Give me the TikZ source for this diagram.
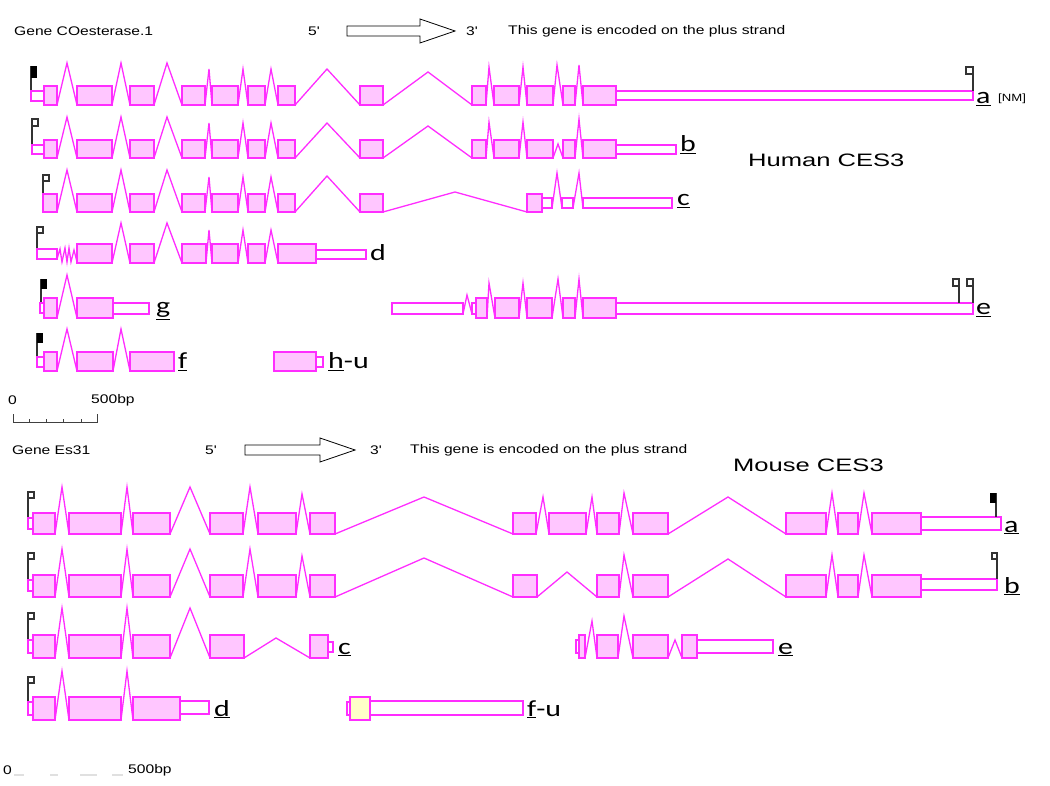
\documentclass[tikz,border=0pt]{standalone}
\usepackage{fontspec}
\setmainfont{Liberation Sans}
\newfontfamily\hdrfont[FakeStretch=1.25]{Liberation Sans}
\newfontfamily\cesfont[FakeStretch=1.42]{Liberation Sans}
\newfontfamily\lblfont[FakeStretch=1.3]{Carlito}
\definecolor{genepink}{RGB}{255,45,255}
\definecolor{exonpink}{RGB}{255,198,255}
\definecolor{utryellow}{RGB}{255,255,200}
\begin{document}
\begin{tikzpicture}[x=1pt, y=-1pt,
	exon/.style={draw=genepink, fill=exonpink, line width=1.5pt},
	utr/.style={draw=genepink, fill=white, line width=1.5pt},
	intron/.style={genepink, line width=1.3pt},
	tss/.style={black!80, line width=1.1pt},
	lbl/.style={anchor=base west, inner sep=0pt, font=\lblfont\fontsize{23}{23}\selectfont},
	hdr/.style={anchor=west, inner sep=0pt, font=\hdrfont\fontsize{12.5}{12.5}\selectfont},
	ceslabel/.style={anchor=west, inner sep=0pt, font=\cesfont\fontsize{18}{18}\selectfont}]
	\useasboundingbox (0,0) rectangle (1050,786);
	\node [hdr] (hgene) at (14,31) {Gene COesterase.1};
	\node [hdr] (hfive) at (308,31) {5'};
	\draw [thick] (347,26) -- (420,26) -- (420,19) -- (455,31) -- (420,43) -- (420,36) -- (347,36) -- cycle;
	\node [hdr] (hthree) at (466,31) {3'};
	\node [hdr] (hstrand) at (508,31) {This gene is encoded on the plus strand};
	\node [ceslabel] (hces) at (748,160) {Human CES3};

	\foreach \a/\p/\h/\b in {57/67/63/77, 112/121/63/130, 154/167/63/182, 205/209/69/212, 238/243/69/248, 265/271/69/278, 295/327/69/360, 383/428/72/472, 486/489/67/494, 519/523/67/527, 553/557/65/563, 575/579/65/583}
		\draw [intron] (\a,105) -- (\p,\h) -- (\b,105);
	\draw [tss] (31,66) -- (31,91);
	\fill [black] (31,66) rectangle (37,78);
	\draw [utr] (31,91) rectangle (44,101);
	\draw [utr] (616,91) rectangle (973,100);
	\foreach \a/\b in {44/57, 77/112, 130/154, 182/205, 212/238, 248/265, 278/295, 360/383, 472/486, 494/519, 527/553, 563/575, 583/616}
		\draw [exon] (\a,86) rectangle (\b,105);
	\draw [tss] (973,67) -- (973,91);
	\draw [tss] (966,67) rectangle (973,74);
	\node [lbl] (ha) at (976,104) {\underline{a}};
	\node [anchor=base west, inner sep=0pt, font=\hdrfont\fontsize{10.5}{10.5}\selectfont] (hnm) at (998,102) {[NM]};

	\foreach \a/\p/\h/\b in {57/67/117/77, 112/121/117/130, 154/167/117/182, 205/209/123/212, 238/243/123/248, 265/271/123/278, 295/327/123/360, 383/428/126/472, 486/489/122/494, 519/523/122/527, 553/558/144/563, 575/579/119/583}
		\draw [intron] (\a,158) -- (\p,\h) -- (\b,158);
	\draw [tss] (32,119) -- (32,145);
	\draw [tss] (32,119) rectangle (38,126);
	\draw [utr] (32,145) rectangle (44,154);
	\draw [utr] (616,145) rectangle (676,154);
	\foreach \a/\b in {44/57, 77/112, 130/154, 182/205, 212/238, 248/265, 278/295, 360/383, 472/486, 494/519, 527/553, 563/575, 583/616}
		\draw [exon] (\a,140) rectangle (\b,158);
	\node [lbl] (hb) at (680,152) {\underline{b}};

	\foreach \a/\p/\h/\b in {57/67/170/77, 112/121/170/130, 154/167/170/182, 205/209/177/212, 238/243/177/248, 265/271/177/278, 295/327/176/360, 383/455/192/527}
		\draw [intron] (\a,212) -- (\p,\h) -- (\b,212);
	\foreach \a/\p/\b in {552/557/562, 573/579/583}
		\draw [intron] (\a,208) -- (\p,173) -- (\b,208);
	\draw [tss] (43,175) -- (43,194);
	\draw [tss] (43,175) rectangle (49,181);
	\foreach \a/\b in {542/552, 562/573, 583/672}
		\draw [utr] (\a,198) rectangle (\b,208);
	\foreach \a/\b in {43/57, 77/112, 130/154, 182/205, 212/238, 248/265, 278/295, 360/383, 527/542}
		\draw [exon] (\a,194) rectangle (\b,212);
	\node [lbl] (hc) at (677,206) {\underline{c}};

	\draw [intron] (57,259) -- (60,249) -- (62,262) -- (65,248) -- (67,262) -- (69,248) -- (71,262) -- (74,250) -- (77,262);
	\foreach \a/\p/\h/\b in {112/121/223/130, 154/167/223/182, 206/209/230/212, 238/243/230/248, 265/271/230/278}
		\draw [intron] (\a,263) -- (\p,\h) -- (\b,263);
	\draw [tss] (37,227) -- (37,249);
	\draw [tss] (37,227) rectangle (43,233);
	\draw [utr] (37,249) rectangle (57,259);
	\draw [utr] (316,250) rectangle (366,259);
	\foreach \a/\b in {77/112, 130/154, 182/206, 212/238, 248/265, 278/316}
		\draw [exon] (\a,244) rectangle (\b,263);
	\node [lbl] (hd) at (370,261) {d};

	\draw [intron] (57,318) -- (67,275) -- (77,318);
	\draw [tss] (41,279) -- (41,303);
	\fill [black] (41,279) rectangle (47,289);
	\draw [utr] (40,303) rectangle (44,313);
	\draw [utr] (113,303) rectangle (149,314);
	\foreach \a/\b in {44/57, 77/113}
		\draw [exon] (\a,298) rectangle (\b,318);
	\node [lbl] (hg) at (156,314) {\underline{g}};

	\draw [intron] (463,314) -- (467,295) -- (472,314);
	\foreach \a/\p/\h/\b in {487/489/283/495, 519/523/283/527, 552/558/279/563, 575/579/279/583}
		\draw [intron] (\a,318) -- (\p,\h) -- (\b,318);
	\foreach \a/\b in {392/463, 472/476, 616/973}
		\draw [utr] (\a,303) rectangle (\b,314);
	\foreach \a/\b in {476/487, 495/519, 527/552, 563/575, 583/616}
		\draw [exon] (\a,298) rectangle (\b,318);
	\foreach \x in {959,973} {
		\draw [tss] (\x,279) -- (\x,303);
		\draw [tss] (\x-6,279) rectangle (\x,286);
	}
	\node [lbl] (he) at (976,315) {\underline{e}};

	\draw [intron] (57,371) -- (67,329) -- (77,371);
	\draw [intron] (113,371) -- (121,329) -- (130,371);
	\draw [tss] (37,333) -- (37,357);
	\fill [black] (37,333) rectangle (43,343);
	\draw [utr] (37,357) rectangle (44,367);
	\draw [utr] (316,357) rectangle (323,367);
	\foreach \a/\b in {44/57, 77/113, 130/174, 274/316}
		\draw [exon] (\a,352) rectangle (\b,371);
	\node [lbl] (hf) at (178,369) {\underline{f}};
	\node [lbl] (hh) at (328,369) {\underline{h}-u};

	\node [hdr] (hzero) at (8,400) {0};
	\node [hdr] (hbp) at (91,400) {500bp};
	\draw [black!75] (13,414) -- (13,422) -- (97,422) -- (97,414);
	\foreach \x in {29,46,63,81}
		\draw [black!75] (\x,422) -- (\x,419);

	\node [hdr] (mgene) at (12,450) {Gene Es31};
	\node [hdr] (mfive) at (205,450) {5'};
	\draw [thick] (245,445) -- (320,445) -- (320,438) -- (355,450) -- (320,462) -- (320,455) -- (245,455) -- cycle;
	\node [hdr] (mthree) at (370,450) {3'};
	\node [hdr] (mstrand) at (410,450) {This gene is encoded on the plus strand};
	\node [ceslabel] (mces) at (733,465) {Mouse CES3};

	\foreach \a/\p/\h/\b in {55/62/487/69, 121/127/487/133, 170/190/487/210, 243/250/487/258, 296/302/494/310, 335/424/497/513, 536/543/497/549, 586/592/497/597, 619/624/493/633, 668/728/497/786, 826/832/493/838, 858/864/493/872}
		\draw [intron] (\a,534) -- (\p,\h) -- (\b,534);
	\draw [tss] (28,492) -- (28,518);
	\draw [tss] (28,492) rectangle (34,498);
	\draw [utr] (28,518) rectangle (33,529);
	\draw [utr] (921,517) rectangle (1001,530);
	\foreach \a/\b in {33/55, 69/121, 133/170, 210/243, 258/296, 310/335, 513/536, 549/586, 597/619, 633/668, 786/826, 838/858, 872/921}
		\draw [exon] (\a,513) rectangle (\b,534);
	\draw [tss] (996,493) -- (996,517);
	\fill [black] (990,493) rectangle (996,503);
	\node [lbl] (ma) at (1004,532) {\underline{a}};

	\foreach \a/\p/\h/\b in {55/62/549/69, 121/127/549/133, 170/190/549/210, 243/250/549/258, 296/302/556/310, 335/424/558/513, 537/567/572/597, 619/624/555/633, 668/728/559/786, 826/832/555/838, 858/864/555/872}
		\draw [intron] (\a,597) -- (\p,\h) -- (\b,597);
	\draw [tss] (28,553) -- (28,580);
	\draw [tss] (28,553) rectangle (34,559);
	\draw [utr] (28,580) rectangle (33,591);
	\draw [utr] (921,579) rectangle (997,590);
	\foreach \a/\b in {33/55, 69/121, 133/170, 210/243, 258/296, 310/335, 513/537, 597/619, 633/668, 786/826, 838/858, 872/921}
		\draw [exon] (\a,575) rectangle (\b,597);
	\draw [tss] (997,553) -- (997,579);
	\draw [tss] (992,553) rectangle (997,559);
	\node [lbl] (mb) at (1004,593) {\underline{b}};

	\foreach \a/\p/\h/\b in {55/62/608/69, 121/127/608/133, 170/190/608/210, 244/276/638/310}
		\draw [intron] (\a,658) -- (\p,\h) -- (\b,658);
	\draw [tss] (28,613) -- (28,640);
	\draw [tss] (28,613) rectangle (34,619);
	\draw [utr] (28,640) rectangle (33,653);
	\draw [utr] (328,642) rectangle (333,652);
	\foreach \a/\b in {33/55, 69/121, 133/170, 210/244, 310/328}
		\draw [exon] (\a,635) rectangle (\b,658);
	\node [lbl] (mc) at (338,654) {\underline{c}};

	\foreach \a/\p/\h/\b in {585/592/621/597, 618/624/616/633, 668/675/640/682}
		\draw [intron] (\a,658) -- (\p,\h) -- (\b,658);
	\draw [utr] (576,640) rectangle (579,653);
	\draw [utr] (697,640) rectangle (773,653);
	\foreach \a/\b in {579/585, 597/618, 633/668, 682/697}
		\draw [exon] (\a,635) rectangle (\b,658);
	\node [lbl] (me) at (778,654) {\underline{e}};

	\draw [intron] (55,720) -- (62,671) -- (69,720);
	\draw [intron] (121,720) -- (127,671) -- (133,720);
	\draw [tss] (28,677) -- (28,702);
	\draw [tss] (28,677) rectangle (34,683);
	\draw [utr] (28,702) rectangle (33,715);
	\draw [utr] (180,701) rectangle (209,714);
	\foreach \a/\b in {33/55, 69/121, 133/180}
		\draw [exon] (\a,697) rectangle (\b,720);
	\node [lbl] (md) at (214,716) {\underline{d}};

	\draw [utr] (347,702) rectangle (350,715);
	\draw [utr] (370,701) rectangle (523,715);
	\draw [exon, fill=utryellow] (350,697) rectangle (370,720);
	\node [lbl] (mf) at (527,716) {\underline{f}-u};

	\node [hdr] (mzero) at (3,770) {0};
	\node [hdr] (mbp) at (128,770) {500bp};
	\foreach \a/\b in {14/24, 50/58, 80/97, 112/123}
		\draw [black!12, line width=2pt] (\a,775) -- (\b,775);
\end{tikzpicture}
\end{document}
